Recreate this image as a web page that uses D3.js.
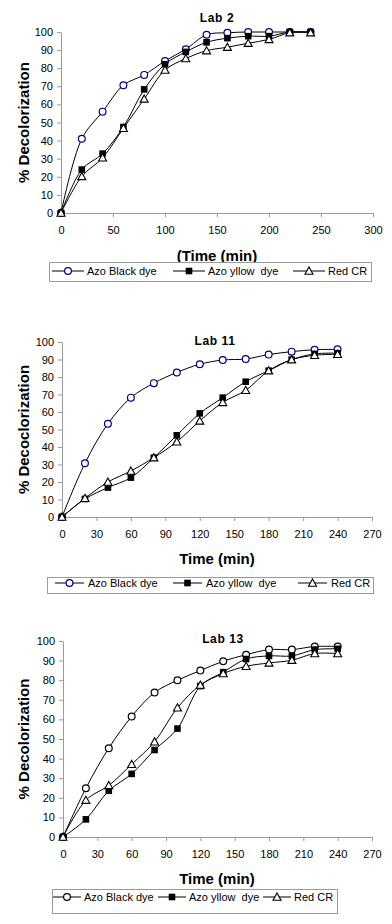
<!DOCTYPE html>
<html>
<head>
<meta charset="utf-8">
<script src="https://cdn.jsdelivr.net/npm/d3@7"></script>
<style>
  body { margin: 0; background: #fff; }
  svg { display: block; font-family: "Liberation Sans", Arial, sans-serif; }
</style>
</head>
<body>
<div id="wrapper"></div>
<script>
// sampling times (min)
const times = [0, 20, 40, 60, 80, 100, 120, 140, 160, 180, 200, 220, 240];
const legendNames = ["Azo Black dye", "Azo yllow  dye", "Red CR"];
const yTickValues = [0, 10, 20, 30, 40, 50, 60, 70, 80, 90, 100];
const lab2XTicks = [0, 50, 100, 150, 200, 250, 300];
const lab11XTicks = [0, 30, 60, 90, 120, 150, 180, 210, 240, 270];
const lab13XTicks = [0, 30, 60, 90, 120, 150, 180, 210, 240, 270];

// % decolorization
const lab2Black  = [0, 41, 56, 70.6, 76.3, 84, 90.5, 98.5, 99.6, 100, 100, 100, 100];
const lab2Yellow = [0, 24, 32.8, 47.5, 68.3, 82.2, 89, 94.3, 96.6, 97.7, 97.7, 100, 100];
const lab2Red    = [0, 20.2, 30.5, 46.8, 63, 79, 85.3, 89.7, 91.6, 93.8, 95.9, 99.6, 99.6];

const lab11Black  = [0, 30.7, 53.3, 68.2, 76.5, 82.6, 87.3, 89.7, 90.3, 92.8, 94.5, 95.6, 95.8];
const lab11Yellow = [0, 10.3, 16.8, 22.5, 33.9, 46.7, 59.2, 68.2, 77.3, 83.6, 89.9, 93.2, 93.6];
const lab11Red    = [0, 10.7, 20, 26.3, 33.9, 43, 54.9, 65.5, 72.4, 83.6, 89.9, 92.4, 93];

const lab13Black  = [0, 24.9, 45.3, 61.5, 73.7, 80, 84.9, 89.7, 93, 95.6, 95.6, 97.2, 97.2];
const lab13Yellow = [0, 9, 23.6, 32.2, 44.4, 55.3, 77, 84.1, 90.8, 92.4, 92.4, 95.6, 96];
const lab13Red    = [0, 18.8, 26.3, 37.1, 48.6, 65.9, 77.5, 83.4, 87.1, 88.8, 90.2, 93.6, 93.6];

const width = 392, height = 924;
const axisGrey = "#9a9a9a";

const svg = d3.select("#wrapper")
  .append("svg")
  .attr("width", width)
  .attr("height", height);

const charts = [
  {
    title: "Lab 2", titleX: 217, titleY: 22,
    ylabel: "% Decolorization", xlabel: "(Time (min)", xlabelY: 261,
    x0: 61, x1: 373, y0: 213, y1: 32, xmax: 300, xticks: lab2XTicks,
    series: [lab2Black, lab2Yellow, lab2Red], circleColor: "#000080",
    legend: { x: 49, y: 262, w: 322, h: 19, base: 275, items: [52, 173, 293], lineLen: 32, textGap: 35 }
  },
  {
    title: "Lab 11", titleX: 215, titleY: 345,
    ylabel: "% Decoclorization", xlabel: "Time (min)", xlabelY: 564,
    x0: 62, x1: 372, y0: 517, y1: 342, xmax: 270, xticks: lab11XTicks,
    series: [lab11Black, lab11Yellow, lab11Red], circleColor: "#000080",
    legend: { x: 47, y: 577, w: 326, h: 16, base: 587, items: [55, 173, 298], lineLen: 29, textGap: 33 }
  },
  {
    title: "Lab 13", titleX: 223, titleY: 643,
    ylabel: "% Decolorization", xlabel: "Time (min)", xlabelY: 884,
    x0: 63, x1: 372, y0: 837, y1: 641, xmax: 270, xticks: lab13XTicks,
    series: [lab13Black, lab13Yellow, lab13Red], circleColor: "#000",
    legend: { x: 52, y: 889, w: 285, h: 24, base: 901, items: [53, 158, 263], lineLen: 28, textGap: 31 }
  }
];

function drawMarker(g, kind, cx, cy, color) {
  if (kind === 0) {
    g.append("circle").attr("cx", cx).attr("cy", cy).attr("r", 3.4)
      .attr("fill", "#fff").attr("stroke", color).attr("stroke-width", 1.2);
  } else if (kind === 1) {
    g.append("rect").attr("x", cx - 3.3).attr("y", cy - 3.3)
      .attr("width", 6.6).attr("height", 6.6).attr("fill", "#000");
  } else {
    g.append("path")
      .attr("d", `M${cx},${cy - 4}L${cx + 4},${cy + 3.2}L${cx - 4},${cy + 3.2}Z`)
      .attr("fill", "#fff").attr("stroke", "#000").attr("stroke-width", 1.1);
  }
}

charts.forEach(c => {
  const g = svg.append("g");

  const xScale = d3.scaleLinear().domain([0, c.xmax]).range([c.x0, c.x1]);
  const yScale = d3.scaleLinear().domain([0, 100]).range([c.y0, c.y1]);

  const yAxis = g.append("g")
    .attr("transform", `translate(${c.x0},0)`)
    .call(d3.axisLeft(yScale).tickValues(yTickValues).tickSize(4).tickSizeOuter(0).tickPadding(4));
  const xAxis = g.append("g")
    .attr("transform", `translate(0,${c.y0})`)
    .call(d3.axisBottom(xScale).tickValues(c.xticks).tickSize(4).tickSizeOuter(0).tickPadding(9));

  [yAxis, xAxis].forEach(a => {
    a.select(".domain").attr("stroke", axisGrey);
    a.selectAll(".tick line").attr("stroke", axisGrey);
    a.selectAll(".tick text").attr("fill", "#000").style("font-size", "11px")
      .style("font-family", '"Liberation Sans", Arial, sans-serif');
  });

  const line = d3.line()
    .x((d, i) => xScale(times[i]))
    .y(d => yScale(d))
    .curve(d3.curveCatmullRom.alpha(0.5));

  c.series.forEach((vals, k) => {
    g.append("path")
      .datum(vals)
      .attr("d", line)
      .attr("fill", "none")
      .attr("stroke", "#000")
      .attr("stroke-width", 1);
  });
  c.series.forEach((vals, k) => {
    vals.forEach((v, i) => drawMarker(g, k, xScale(times[i]), yScale(v), c.circleColor));
  });

  // titles
  g.append("text")
    .attr("x", c.titleX).attr("y", c.titleY)
    .attr("text-anchor", "middle")
    .style("font-size", "12px").style("font-weight", "bold").style("letter-spacing", "0.6px")
    .text(c.title);

  g.append("text")
    .attr("transform", `translate(29,${(c.y0 + c.y1) / 2}) rotate(-90)`)
    .attr("text-anchor", "middle")
    .style("font-size", "15px").style("font-weight", "bold")
    .text(c.ylabel);

  g.append("text")
    .attr("x", 217).attr("y", c.xlabelY)
    .attr("text-anchor", "middle")
    .style("font-size", "15px").style("font-weight", "bold")
    .text(c.xlabel);

  // legend
  const L = c.legend;
  g.append("rect")
    .attr("x", L.x + 0.5).attr("y", L.y + 0.5)
    .attr("width", L.w).attr("height", L.h)
    .attr("fill", "#fff").attr("stroke", axisGrey);

  legendNames.forEach((name, k) => {
    const lx = L.items[k];
    const my = L.base - 4;
    g.append("line")
      .attr("x1", lx).attr("x2", lx + L.lineLen)
      .attr("y1", my).attr("y2", my)
      .attr("stroke", "#000");
    drawMarker(g, k, lx + L.lineLen / 2, my, c.circleColor);
    g.append("text")
      .attr("x", lx + L.textGap).attr("y", L.base)
      .style("font-size", "11px")
      .style("white-space", "pre")
      .text(name);
  });
});
</script>
</body>
</html>
